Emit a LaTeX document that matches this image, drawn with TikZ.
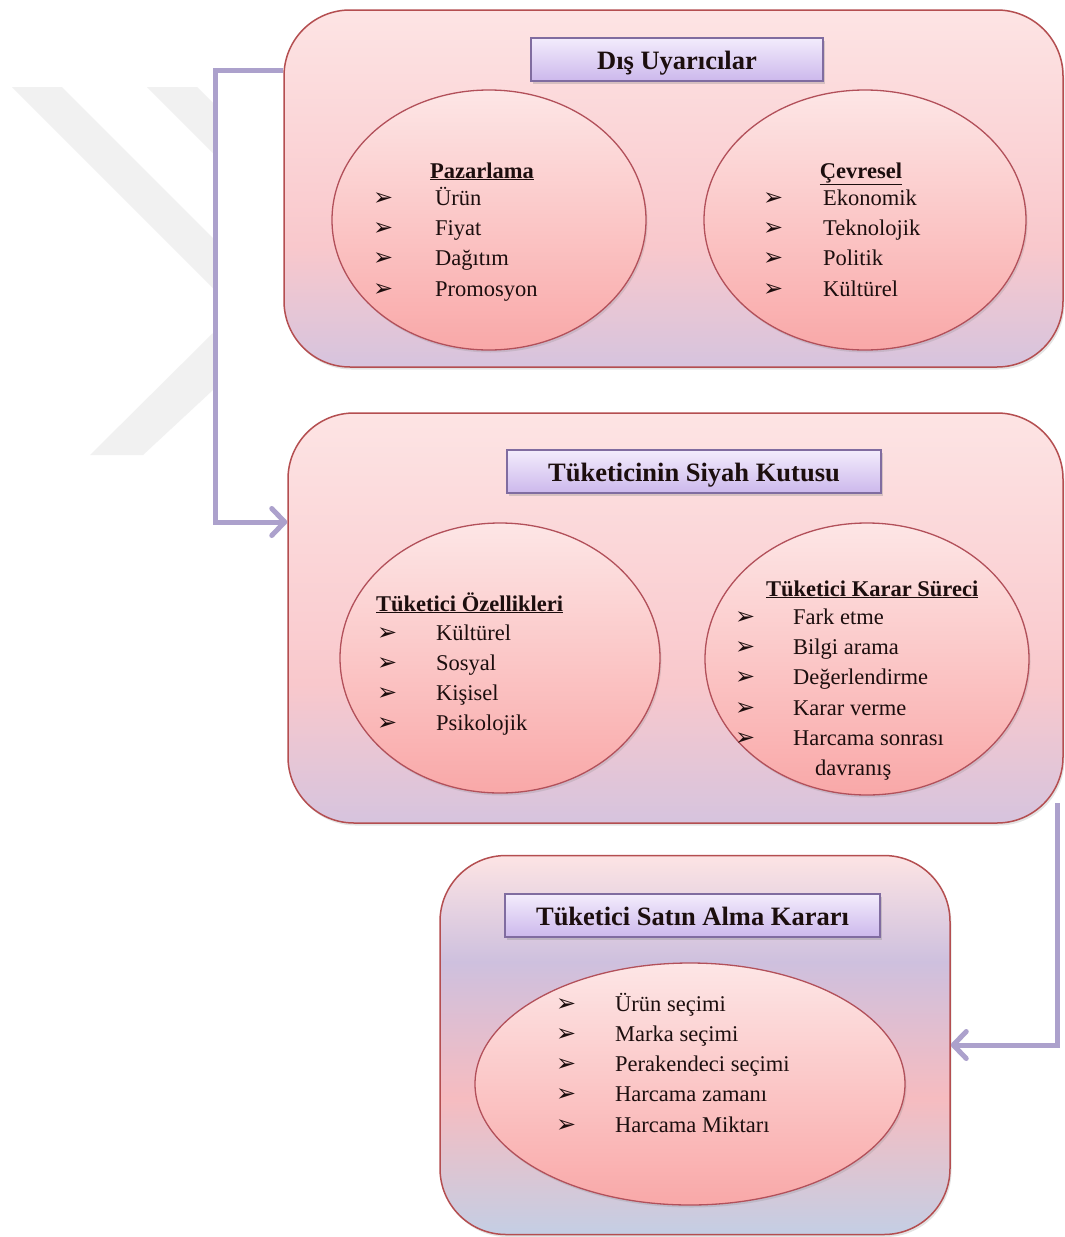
\documentclass[tikz,border=0pt]{standalone}
\usepackage{fontspec}
\setmainfont{Liberation Serif}
\newfontfamily\dgSym{DejaVu Sans}
\usetikzlibrary{shapes.geometric,arrows.meta,shadows,calc}

\definecolor{wm}{RGB}{241,241,241}
\definecolor{boxline}{RGB}{180,78,80}
\definecolor{bxtop}{RGB}{253,228,228}
\definecolor{bxmid}{RGB}{249,200,204}
\definecolor{bxbot}{RGB}{214,196,222}
\definecolor{bthree}{RGB}{196,206,228}
\definecolor{bthreepink}{RGB}{246,188,192}
\definecolor{bthreelav}{RGB}{206,192,222}
\definecolor{ttline}{RGB}{128,108,160}
\definecolor{tttop}{RGB}{243,236,252}
\definecolor{ttbot}{RGB}{204,184,236}
\definecolor{ovline}{RGB}{178,80,90}
\definecolor{ovtop}{RGB}{253,230,230}
\definecolor{ovbot}{RGB}{249,168,168}
\definecolor{connc}{RGB}{172,161,204}
\definecolor{txt}{RGB}{28,14,14}

\pgfdeclareverticalshading{boxshade}{100bp}{color(0bp)=(bxbot); color(25bp)=(bxbot); color(42bp)=(bxmid); color(75bp)=(bxtop); color(100bp)=(bxtop)}
\pgfdeclareverticalshading{boxthreeshade}{100bp}{color(0bp)=(bthree); color(25bp)=(bthree); color(43bp)=(bthreepink); color(61bp)=(bthreelav); color(75bp)=(bxtop); color(100bp)=(bxtop)}

\newcommand{\dgItem}{\fontsize{22.5}{27}\selectfont}
\newcommand{\dgHead}{\fontsize{22.5}{27}\selectfont\bfseries}
\newcommand{\dgTitle}{\fontsize{26.5}{30}\selectfont\bfseries}
\newcommand{\dgBul}{\dgSym\fontsize{24}{26}\selectfont}

\tikzset{
  bigbox/.style={draw=boxline, line width=1.5pt, rounded corners=66pt, inner sep=0pt,
    shading=boxshade, drop shadow={opacity=0.22, shadow xshift=1.5pt, shadow yshift=-2.5pt}},
  titlebox/.style={draw=ttline, line width=1.3pt, top color=tttop, bottom color=ttbot, inner sep=0pt,
    text height=24pt, text depth=4pt,
    font=\dgTitle, text=txt, drop shadow={opacity=0.3, shadow xshift=2pt, shadow yshift=-3pt}},
  oval/.style={ellipse, draw=ovline, line width=1.3pt, top color=ovtop, bottom color=ovbot, inner sep=0pt,
    drop shadow={opacity=0.22, shadow xshift=1.5pt, shadow yshift=-2.5pt}},
  itm/.style={anchor=base west, inner sep=0pt, font=\dgItem, text=txt},
  bul/.style={anchor=base west, inner sep=0pt, font=\dgBul, text=txt},
  hd/.style={inner sep=0pt, font=\dgHead, text=txt},
  conn/.style={draw=connc, line width=5pt, line join=miter, -{Straight Barb[length=13pt,width=27pt,round]}},
}

\begin{document}
\begin{tikzpicture}[x=1pt,y=-1pt]
\useasboundingbox (0,0) rectangle (1065,1237);
\fill[white] (0,0) rectangle (1065,1237);

% watermark
\fill[wm] (12,87) -- (62,87) -- (213,238) -- (213,288) -- cycle;
\fill[wm] (147,87) -- (197,87) -- (213,103) -- (213,153) -- cycle;
\fill[wm] (213,333) -- (213,390) -- (143,455) -- (90,455) -- cycle;

% big boxes
\node[bigbox, minimum width=779pt, minimum height=357pt] (b1) at (673.5,188.5) {};
\node[bigbox, minimum width=775pt, minimum height=410pt] (b2) at (675.5,618) {};
\node[bigbox, shading=boxthreeshade, minimum width=510pt, minimum height=379pt] (b3) at (695,1045) {};

% titles
\node[titlebox, minimum width=292pt, minimum height=43pt] (t1) at (677,59.5) {Dış Uyarıcılar};
\node[titlebox, minimum width=374pt, minimum height=43pt] (t2) at (694,471.5) {Tüketicinin Siyah Kutusu};
\node[titlebox, minimum width=375pt, minimum height=43pt] (t3) at (692.5,915.5) {Tüketici Satın Alma Kararı};

% ovals
\node[oval, minimum width=314pt, minimum height=260pt] (e1) at (489,220) {};
\node[oval, minimum width=322pt, minimum height=260pt] (e2) at (865,220) {};
\node[oval, minimum width=320pt, minimum height=270pt] (e3) at (500,658) {};
\node[oval, minimum width=324pt, minimum height=272pt] (e4) at (867,659) {};
\node[oval, minimum width=430pt, minimum height=242pt] (e5) at (690,1084) {};

% Pazarlama
\node[hd, anchor=base] (h1) at (482,178) {\underline{Pazarlama}};
\foreach \t [count=\i] in {Ürün,Fiyat,Dağıtım,Promosyon}{
  \node[bul] (pzb\i) at (373,{205+30.4*(\i-1)}) {➢};
  \node[itm] (pzt\i) at (435,{205+30.4*(\i-1)}) {\t};
}
% Cevresel
\node[hd, anchor=base] (h2) at (861,178) {\underline{Çevresel}};
\foreach \t [count=\i] in {Ekonomik,Teknolojik,Politik,Kültürel}{
  \node[bul] (cvb\i) at (763,{205+30.4*(\i-1)}) {➢};
  \node[itm] (cvt\i) at (823,{205+30.4*(\i-1)}) {\t};
}
% Ozellikleri
\node[hd, anchor=base west] (h3) at (376,611) {\underline{Tüketici Özellikleri}};
\foreach \t [count=\i] in {Kültürel,Sosyal,Kişisel,Psikolojik}{
  \node[bul] (ozb\i) at (377,{640+30.3*(\i-1)}) {➢};
  \node[itm] (ozt\i) at (436,{640+30.3*(\i-1)}) {\t};
}
% Karar sureci
\node[hd, anchor=base west] (h4) at (766,596) {\underline{Tüketici Karar Süreci}};
\foreach \t [count=\i] in {Fark etme,Bilgi arama,Değerlendirme,Karar verme,Harcama sonrası}{
  \node[bul] (ksb\i) at (735,{624+30.4*(\i-1)}) {➢};
  \node[itm] (kst\i) at (793,{624+30.4*(\i-1)}) {\t};
}
\node[itm] (kst6) at (815,775) {davranış};
% Satin alma
\foreach \t [count=\i] in {Ürün seçimi,Marka seçimi,Perakendeci seçimi,Harcama zamanı,Harcama Miktarı}{
  \node[bul] (sab\i) at (556,{1011+30.3*(\i-1)}) {➢};
  \node[itm] (sat\i) at (615,{1011+30.3*(\i-1)}) {\t};
}

% connectors
\coordinate (c1a) at (215,70);
\coordinate (c1b) at (215,522);
\draw[conn] (c1a -| b1.west) -- (c1a) -- (c1b) -- (c1b -| b2.west);
\coordinate (c2a) at (1057,803);
\coordinate (c2b) at (1057,1045);
\draw[conn] (c2a) -- (c2b) -- (b3.east);
\end{tikzpicture}
\end{document}
